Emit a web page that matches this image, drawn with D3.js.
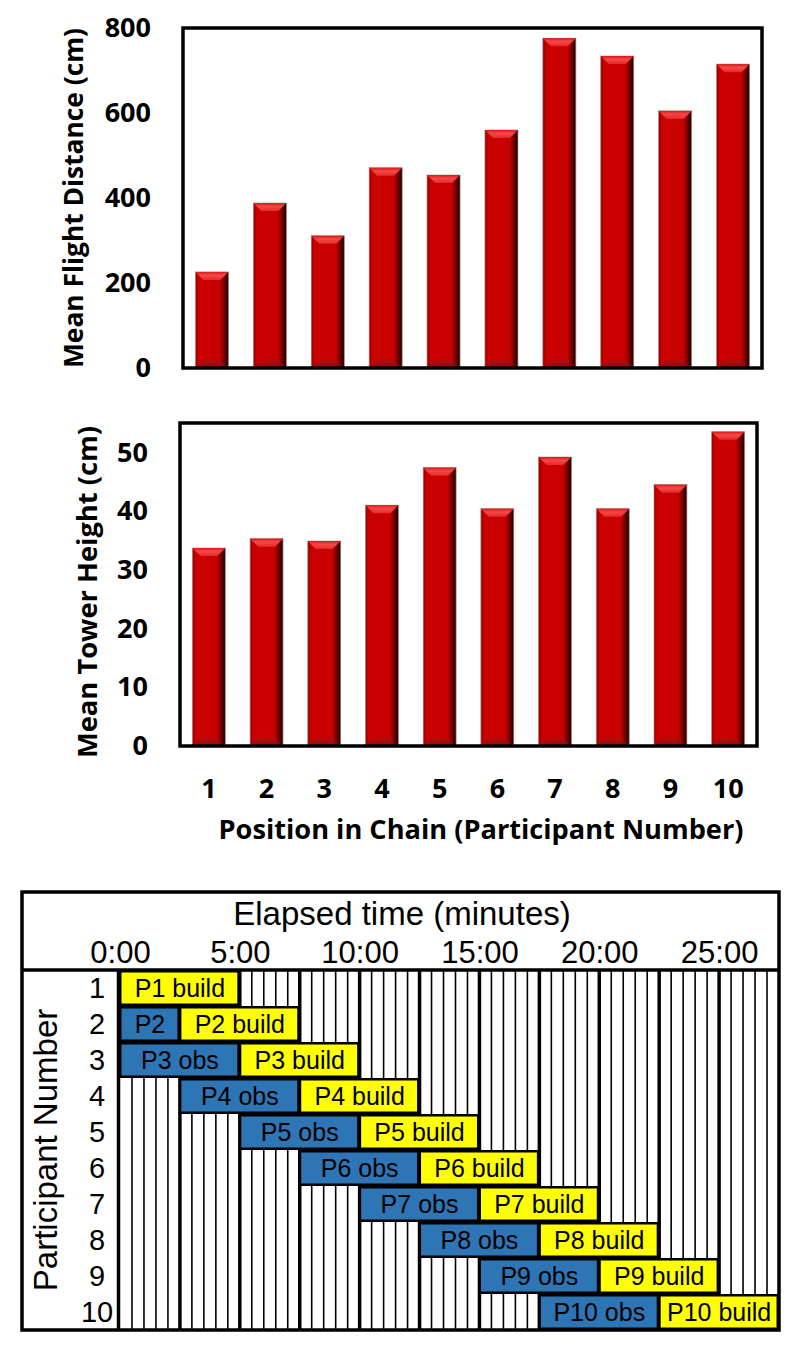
<!DOCTYPE html>
<html>
<head>
<meta charset="utf-8">
<script src="https://cdn.jsdelivr.net/npm/d3@7"></script>
<style>
  body { margin: 0; background: #fff; }
  svg { display: block; }
</style>
</head>
<body>
<div id="chart"></div>
<script>
// participants / positions in the chain
var participants = ['1', '2', '3', '4', '5', '6', '7', '8', '9', '10'];

// top panel: mean flight distance (cm)
var flightDistance = [226, 388, 311, 471, 454, 560, 776, 734, 605, 715];
var flightTicks = [0, 200, 400, 600, 800];

// middle panel: mean tower height (cm)
var towerHeight = [33.7, 35.3, 34.9, 41.0, 47.4, 40.4, 49.2, 40.4, 44.5, 53.5];
var towerTicks = [0, 10, 20, 30, 40, 50];

// bottom panel: schedule, in minutes
var obsLabels  = ['', 'P2', 'P3 obs', 'P4 obs', 'P5 obs', 'P6 obs', 'P7 obs', 'P8 obs', 'P9 obs', 'P10 obs'];
var obsStart   = [null, 0, 0, 2.5, 5, 7.5, 10, 12.5, 15, 17.5];
var obsEnd     = [null, 2.5, 5, 7.5, 10, 12.5, 15, 17.5, 20, 22.5];
var buildLabels = ['P1 build', 'P2 build', 'P3 build', 'P4 build', 'P5 build', 'P6 build', 'P7 build', 'P8 build', 'P9 build', 'P10 build'];
var buildStart = [0, 2.5, 5, 7.5, 10, 12.5, 15, 17.5, 20, 22.5];
var buildEnd   = [5, 7.5, 10, 12.5, 15, 17.5, 20, 22.5, 25, 27.5];
var timeTicks = [0, 5, 10, 15, 20, 25];
var timeTickLabels = ['0:00', '5:00', '10:00', '15:00', '20:00', '25:00'];
var timeMax = 27.5;

var width = 800, height = 1350;
var boldFont = '"Open Sans", "DejaVu Sans", sans-serif';
var plainFont = '"Liberation Sans", Arial, sans-serif';

var svg = d3.select('#chart')
  .append('svg')
  .attr('width', width)
  .attr('height', height)
  .style('background', '#fff');

// gradients for the bevelled red bars
var defs = svg.append('defs');
var sideGrad = defs.append('linearGradient').attr('id', 'barSide')
  .attr('x1', '0%').attr('x2', '100%').attr('y1', '0%').attr('y2', '0%');
[['0%', '#8c0000'], ['9%', '#c60000'], ['16%', '#cc0000'], ['74%', '#c80000'],
 ['87%', '#740000'], ['100%', '#160000']].forEach(function(s) {
  sideGrad.append('stop').attr('offset', s[0]).attr('stop-color', s[1]);
});
var topGrad = defs.append('linearGradient').attr('id', 'barTop')
  .attr('x1', '0%').attr('x2', '0%').attr('y1', '0%').attr('y2', '100%');
[['0%', '#d81818'], ['40%', '#f64848'], ['100%', '#e42a2a']].forEach(function(s) {
  topGrad.append('stop').attr('offset', s[0]).attr('stop-color', s[1]);
});
var botGrad = defs.append('linearGradient').attr('id', 'barBot')
  .attr('x1', '0%').attr('x2', '0%').attr('y1', '0%').attr('y2', '100%');
[['0%', '#a01818'], ['100%', '#701010']].forEach(function(s) {
  botGrad.append('stop').attr('offset', s[0]).attr('stop-color', s[1]);
});

function drawBars(g, x, y, values) {
  var b = 8;
  var bw = x.bandwidth();
  var bars = g.selectAll('.bar')
    .data(values)
    .enter()
    .append('g')
    .attr('class', 'bar');

  bars.append('rect')
    .attr('x', function(d, i) { return x(participants[i]); })
    .attr('y', function(d) { return y(d); })
    .attr('width', bw)
    .attr('height', function(d) { return y(0) - y(d); })
    .attr('fill', 'url(#barSide)')
    .attr('stroke', '#a88080')
    .attr('stroke-width', 0.7);

  // top bevel
  bars.append('path')
    .attr('d', function(d, i) {
      var x0 = x(participants[i]), x1 = x0 + bw, yt = y(d);
      return 'M' + x0 + ',' + yt + 'L' + x1 + ',' + yt + 'L' + (x1 - b) + ',' + (yt + b) +
        'L' + (x0 + b) + ',' + (yt + b) + 'Z';
    })
    .attr('fill', 'url(#barTop)');

  // bottom bevel
  bars.append('path')
    .attr('d', function(d, i) {
      var x0 = x(participants[i]), x1 = x0 + bw, yb = y(0);
      return 'M' + x0 + ',' + yb + 'L' + x1 + ',' + yb + 'L' + (x1 - b) + ',' + (yb - b) +
        'L' + (x0 + b) + ',' + (yb - b) + 'Z';
    })
    .attr('fill', 'url(#barBot)')
    .attr('opacity', 0.6);
}

function barPanel(values, ticks, yMax, box, title, titleX, titleY, titleLen) {
  var x = d3.scaleBand()
    .domain(participants)
    .range([box.left, box.right])
    .paddingInner(0.43)
    .paddingOuter(0.215);
  var y = d3.scaleLinear()
    .domain([0, yMax])
    .range([box.bottom, box.top]);

  var g = svg.append('g');
  drawBars(g, x, y, values);

  g.append('rect')
    .attr('x', box.left)
    .attr('y', box.top)
    .attr('width', box.right - box.left)
    .attr('height', box.bottom - box.top)
    .attr('fill', 'none')
    .attr('stroke', '#000')
    .attr('stroke-width', 3.5);

  var yAxis = g.append('g')
    .attr('transform', 'translate(' + box.left + ',0)')
    .call(d3.axisLeft(y).tickValues(ticks).tickSize(0).tickPadding(32));
  yAxis.select('.domain').remove();
  yAxis.selectAll('text')
    .attr('font-family', boldFont)
    .attr('font-weight', 'bold')
    .attr('font-size', 27)
    .attr('fill', '#000');

  g.append('text')
    .attr('transform', 'translate(' + titleX + ',' + titleY + ') rotate(-90)')
    .attr('text-anchor', 'middle')
    .attr('font-family', boldFont)
    .attr('font-weight', 'bold')
    .attr('font-size', 26)
    .attr('textLength', titleLen)
    .attr('lengthAdjust', 'spacingAndGlyphs')
    .text(title);

  return x;
}

barPanel(flightDistance, flightTicks, 800,
  { left: 183, right: 762, top: 28, bottom: 368 },
  'Mean Flight Distance (cm)', 83, 198, 340);

var x2 = barPanel(towerHeight, towerTicks, 55,
  { left: 180, right: 757, top: 423, bottom: 746 },
  'Mean Tower Height (cm)', 97, 592, 332);

var xAxis = svg.append('g')
  .attr('transform', 'translate(0,779)')
  .call(d3.axisBottom(x2).tickSize(0).tickPadding(0));
xAxis.select('.domain').remove();
xAxis.selectAll('text')
  .attr('dy', '0.71em')
  .attr('font-family', boldFont)
  .attr('font-weight', 'bold')
  .attr('font-size', 27)
  .attr('fill', '#000');

svg.append('text')
  .attr('x', 481)
  .attr('y', 839)
  .attr('text-anchor', 'middle')
  .attr('font-family', boldFont)
  .attr('font-weight', 'bold')
  .attr('font-size', 26)
  .attr('textLength', 525)
  .attr('lengthAdjust', 'spacingAndGlyphs')
  .text('Position in Chain (Participant Number)');

// ---- schedule panel ----
var frame = { left: 22, right: 779, top: 892, header: 970, bottom: 1330 };
var tx = d3.scaleLinear().domain([0, timeMax]).range([120, frame.right]);
var ty = d3.scaleBand().domain(participants).range([frame.header, frame.bottom]);

var sg = svg.append('g');
sg.append('rect')
  .attr('x', frame.left).attr('y', frame.top)
  .attr('width', frame.right - frame.left).attr('height', frame.bottom - frame.top)
  .attr('fill', '#fff');

// half-minute hatch lines, heavier every 2.5 minutes
var hatch = d3.range(0, timeMax * 2).map(function(k) { return k / 2; });
sg.selectAll('.hatch')
  .data(hatch)
  .enter()
  .append('line')
  .attr('x1', function(d) { return tx(d) - (d === 0 ? 1.5 : 0); })
  .attr('x2', function(d) { return tx(d) - (d === 0 ? 1.5 : 0); })
  .attr('y1', frame.header)
  .attr('y2', frame.bottom)
  .attr('stroke', '#000')
  .attr('stroke-width', function(d) { return d % 2.5 === 0 ? 3.5 : 1.6; });

var segments = [];
participants.forEach(function(p, i) {
  if (obsLabels[i]) {
    segments.push({ row: p, start: obsStart[i], end: obsEnd[i], label: obsLabels[i], color: '#2e75b6' });
  }
  segments.push({ row: p, start: buildStart[i], end: buildEnd[i], label: buildLabels[i], color: '#ffff00' });
});

var seg = sg.selectAll('.seg')
  .data(segments)
  .enter()
  .append('g')
  .attr('class', 'seg');

seg.append('rect')
  .attr('x', function(d) { return tx(d.start) - 1; })
  .attr('y', function(d) { return ty(d.row); })
  .attr('width', function(d) { return tx(d.end) - tx(d.start) + 1; })
  .attr('height', ty.bandwidth())
  .attr('fill', '#000');

seg.append('rect')
  .attr('x', function(d) { return tx(d.start) + 1.5; })
  .attr('y', function(d) { return ty(d.row) + 2.5; })
  .attr('width', function(d) { return tx(d.end) - tx(d.start) - 4; })
  .attr('height', ty.bandwidth() - 5)
  .attr('fill', function(d) { return d.color; });

seg.append('text')
  .attr('x', function(d) { return (tx(d.start) + tx(d.end)) / 2; })
  .attr('y', function(d) { return ty(d.row) + ty.bandwidth() / 2; })
  .attr('dy', '0.36em')
  .attr('text-anchor', 'middle')
  .attr('font-family', plainFont)
  .attr('font-size', 25)
  .attr('fill', '#000')
  .text(function(d) { return d.label; });

// frame lines
sg.append('rect')
  .attr('x', frame.left).attr('y', frame.top)
  .attr('width', frame.right - frame.left).attr('height', frame.bottom - frame.top)
  .attr('fill', 'none')
  .attr('stroke', '#000')
  .attr('stroke-width', 3.5);
sg.append('line')
  .attr('x1', frame.left).attr('x2', frame.right)
  .attr('y1', frame.header).attr('y2', frame.header)
  .attr('stroke', '#000').attr('stroke-width', 3.5);

// time axis in the header
var tAxis = sg.append('g')
  .attr('transform', 'translate(0,963)')
  .call(d3.axisTop(tx).tickValues(timeTicks).tickSize(0).tickPadding(0)
    .tickFormat(function(d, i) { return timeTickLabels[i]; }));
tAxis.select('.domain').remove();
tAxis.selectAll('text')
  .attr('font-family', plainFont)
  .attr('font-size', 31)
  .attr('fill', '#000');

sg.append('text')
  .attr('x', 402)
  .attr('y', 925)
  .attr('text-anchor', 'middle')
  .attr('font-family', plainFont)
  .attr('font-size', 33)
  .text('Elapsed time (minutes)');

// participant row labels
var rAxis = sg.append('g')
  .attr('transform', 'translate(97,0)')
  .call(d3.axisLeft(ty).tickSize(0).tickPadding(0));
rAxis.select('.domain').remove();
rAxis.selectAll('text')
  .attr('text-anchor', 'middle')
  .attr('dy', '0.36em')
  .attr('font-family', plainFont)
  .attr('font-size', 29)
  .attr('fill', '#000');

sg.append('text')
  .attr('transform', 'translate(57,1150) rotate(-90)')
  .attr('text-anchor', 'middle')
  .attr('font-family', plainFont)
  .attr('font-size', 33)
  .text('Participant Number');
</script>
</body>
</html>
